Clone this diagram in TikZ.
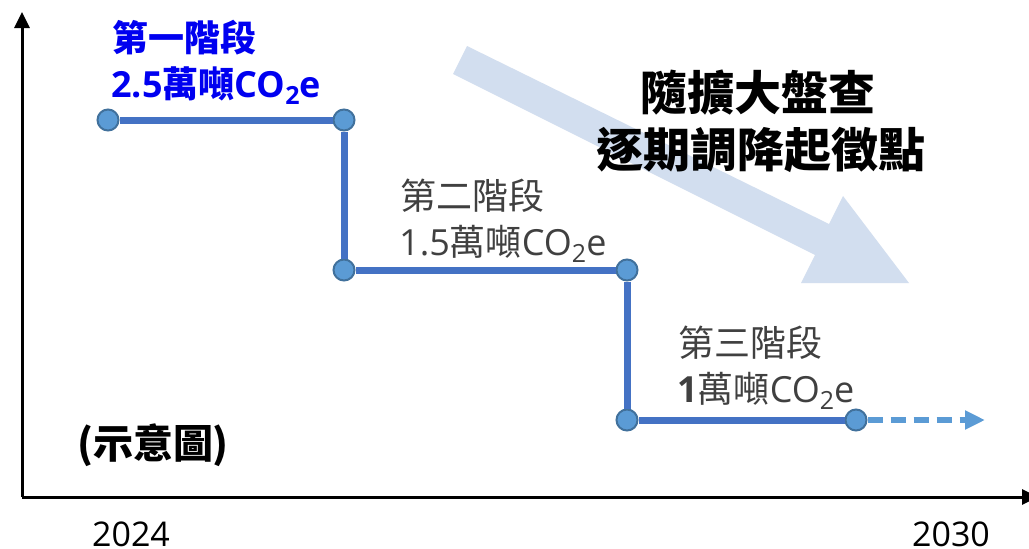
\documentclass[tikz,border=0pt]{standalone}
\usepackage{fontspec}
\setmainfont{Open Sans}
\newfontfamily\cjk{Noto Sans CJK TC}
\usetikzlibrary{arrows.meta}
\definecolor{stepblue}{HTML}{4472C4}
\definecolor{dotfill}{HTML}{5B9BD5}
\definecolor{dotedge}{HTML}{41719C}
\definecolor{bigarrow}{HTML}{D2DEEF}
\definecolor{labgray}{HTML}{404040}
\definecolor{labblue}{HTML}{0000F0}
\newcommand{\subtwo}{\raisebox{-7pt}{\fontsize{25}{27}\selectfont 2}}
\begin{document}
\begin{tikzpicture}[x=1pt,y=-1pt,
  dot/.style={circle,fill=dotfill,draw=dotedge,line width=2pt,minimum size=21pt,inner sep=0pt},
  stepline/.style={stepblue,line width=7pt},
  axisline/.style={line width=3pt,-{Triangle[length=16pt,width=15pt]}},
  lab/.style={anchor=base west,inner sep=0pt,font=\fontsize{36}{40}\selectfont},
  title/.style={anchor=base,inner sep=0pt,font=\fontsize{47}{52}\selectfont\bfseries\cjk},
  year/.style={anchor=base,inner sep=0pt,font=\fontsize{34}{38}\selectfont}]
\useasboundingbox (0,0) rectangle (1029,549);
\fill[white] (0,0) rectangle (1029,549);
% big light arrow
\fill[bigarrow] (467,46) -- (829,224) -- (843,196) -- (909,283) -- (801,283) -- (815,255) -- (453,74) -- cycle;
% axes
\coordinate (origin) at (22,497);
\coordinate (ytop) at (22,12);
\coordinate (xend) at (1038,497);
\draw[axisline] (origin) -- (ytop);
\draw[axisline] (origin) -- (xend);
% step nodes
\node[dot] (p1) at (108,120) {};
\node[dot] (p2) at (344,120) {};
\node[dot] (p3) at (344,270) {};
\node[dot] (p4) at (627,270) {};
\node[dot] (p5) at (627,420) {};
\node[dot] (p6) at (856,420) {};
\coordinate (future) at (985,420);
\draw[stepline] (p1) -- (p2);
\draw[stepline] (p2) -- (p3);
\draw[stepline] (p3) -- (p4);
\draw[stepline] (p4) -- (p5);
\draw[stepline] (p5) -- (p6);
\draw[dotfill,line width=6pt,dash pattern=on 15pt off 8pt,-{Triangle[length=20pt,width=18pt]}] (p6) -- (future);
% labels
\node[lab,text=labblue] (s1a) at (112,51) {\bfseries\cjk 第一階段};
\node[lab,text=labblue] (s1b) at (111,97) {\bfseries 2.5{\cjk 萬噸}CO\subtwo e};
\node[lab,text=labgray] (s2a) at (400,209) {\cjk 第二階段};
\node[lab,text=labgray] (s2b) at (399,255) {1.5{\cjk 萬噸}CO\subtwo e};
\node[lab,text=labgray] (s3a) at (678,356) {\cjk 第三階段};
\node[lab,text=labgray] (s3b) at (677,402) {\textbf{1}{\cjk 萬噸}CO\subtwo e};
\node[title] (t1) at (758,110) {隨擴大盤查};
\node[title] (t2) at (761,167) {逐期調降起徵點};
\node[anchor=base,inner sep=0pt,font=\fontsize{40}{44}\selectfont\bfseries\cjk] (note) at (153,458) {(示意圖)};
\node[year] (y1) at (131,546) {2024};
\node[year] (y2) at (951,546) {2030};
\end{tikzpicture}
\end{document}
